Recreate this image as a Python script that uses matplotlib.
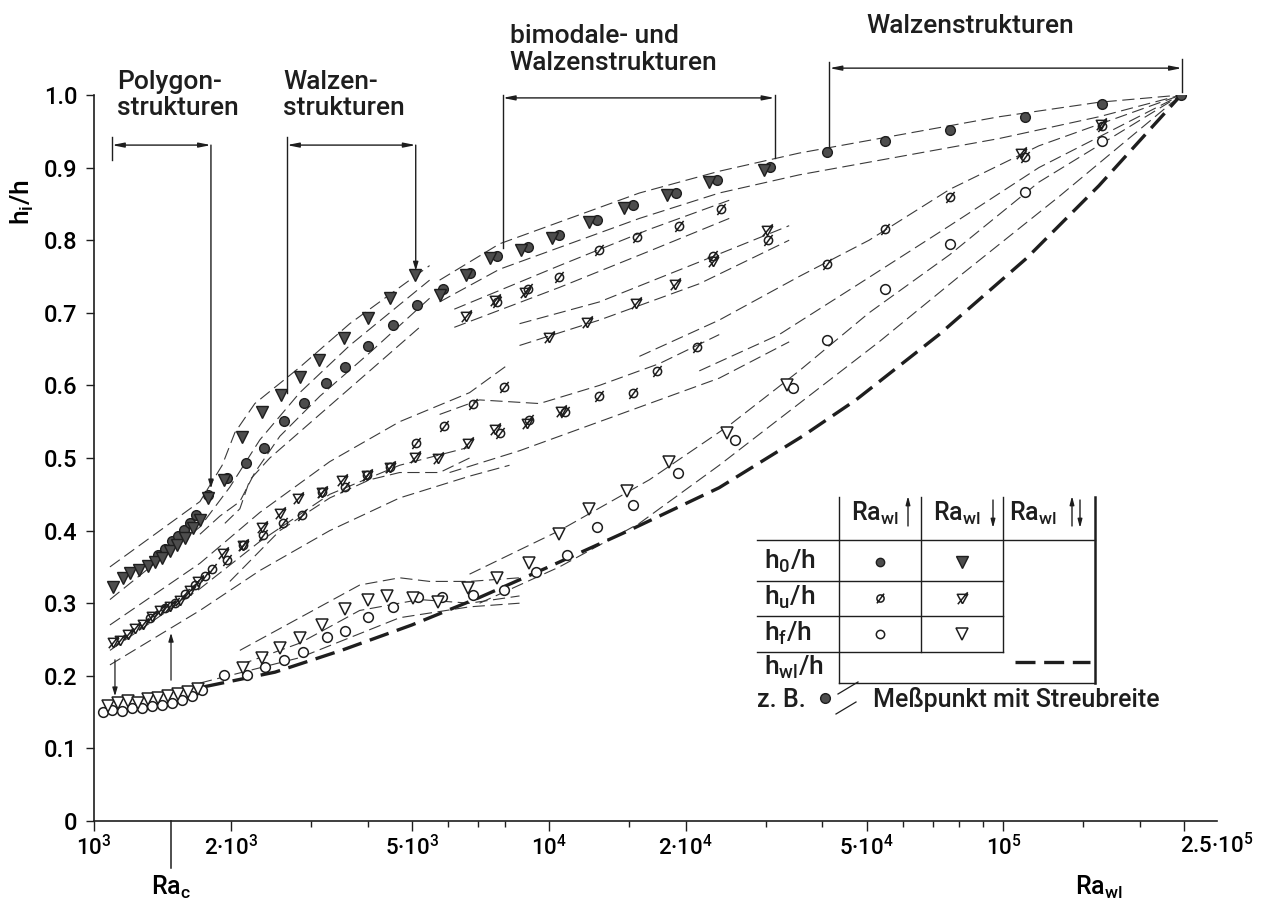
import numpy as np
import matplotlib
matplotlib.use('Agg')
import matplotlib.pyplot as plt
from matplotlib.path import Path

plt.rcParams['font.family'] = ['Roboto', 'DejaVu Sans']
plt.rcParams['font.weight'] = 'medium'
plt.rcParams['mathtext.fontset'] = 'custom'
plt.rcParams['mathtext.rm'] = 'Roboto:medium'
plt.rcParams['mathtext.it'] = 'Roboto:medium'
plt.rcParams['mathtext.bf'] = 'Roboto:bold'

# ---- measured values (Ra_wl, h_i/h) ----
h0_up_ra = [1383, 1432, 1484, 1530, 1577, 1626, 1676, 1780, 1960, 2160, 2364, 2617, 2894,
            3236, 3562, 4000, 4540, 5128, 5870, 6700, 7690, 8990, 10560, 12750, 15300,
            19100, 23400, 30600, 41000, 55000, 76500, 111700, 165000, 246000]
h0_up_h = [0.366, 0.375, 0.385, 0.392, 0.401, 0.410, 0.422, 0.449, 0.472, 0.493, 0.514, 0.551,
           0.576, 0.603, 0.626, 0.654, 0.683, 0.711, 0.733, 0.755, 0.778, 0.791, 0.807, 0.828,
           0.848, 0.865, 0.883, 0.901, 0.921, 0.937, 0.952, 0.970, 0.988, 1.0]

h0_dn_ra = [1101, 1158, 1200, 1256, 1314, 1362, 1411, 1469, 1522, 1585, 1651, 1710, 1780, 1930,
            2115, 2340, 2576, 2835, 3123, 3542, 4000, 4470, 5077, 5756, 6565, 7412, 8710,
            10190, 12290, 14670, 18230, 22550, 29780]
h0_dn_h = [0.322, 0.335, 0.342, 0.346, 0.351, 0.357, 0.362, 0.372, 0.380, 0.390, 0.403, 0.415,
           0.445, 0.470, 0.529, 0.563, 0.587, 0.612, 0.635, 0.665, 0.693, 0.721, 0.752, 0.724,
           0.752, 0.775, 0.787, 0.803, 0.825, 0.845, 0.862, 0.880, 0.897]

hu_up_ra = [1328, 1432, 1507, 1585, 1667, 1754, 1817, 1965, 2125, 2350, 2600, 2870, 3170, 3560,
            3990, 4470, 5120, 5900, 6800, 7960, 7800, 9070, 10840, 12930, 15300, 17340, 21230,
            7690, 8990, 10560, 12930, 15670, 19380, 23960, 23030, 30400,
            41000, 55000, 76200, 111400, 165000]
hu_up_h = [0.280, 0.293, 0.300, 0.312, 0.325, 0.337, 0.347, 0.360, 0.380, 0.394, 0.410, 0.421,
           0.453, 0.460, 0.477, 0.488, 0.520, 0.544, 0.574, 0.598, 0.535, 0.553, 0.563, 0.585,
           0.590, 0.620, 0.653,
           0.715, 0.733, 0.750, 0.787, 0.805, 0.820, 0.843, 0.778, 0.800,
           0.767, 0.815, 0.860, 0.915, 0.957]

hu_dn_ra = [1101, 1141, 1188, 1231, 1281, 1340, 1397, 1469, 1545, 1626, 1694, 1920, 2125, 2340,
            2563, 2806, 3170, 3510, 3990, 4470, 5077, 5700, 6630, 7610, 8940, 10660,
            6565, 7610, 8850, 10040, 12170, 15590, 18990, 23030, 30240, 109300, 163600]
hu_dn_h = [0.247, 0.250, 0.258, 0.266, 0.272, 0.283, 0.290, 0.296, 0.305, 0.318, 0.330, 0.369,
           0.380, 0.405, 0.424, 0.445, 0.453, 0.470, 0.477, 0.488, 0.501, 0.500, 0.520, 0.540,
           0.548, 0.565,
           0.695, 0.718, 0.728, 0.667, 0.688, 0.713, 0.740, 0.772, 0.814, 0.920, 0.960]

hf_up_ra = [1046, 1095, 1152, 1212, 1275, 1340, 1411, 1484, 1561, 1642, 1727, 1930, 2168, 2375,
            2617, 2880, 3250, 3560, 4000, 4540, 5150, 5840, 6800, 7960, 9400, 10970, 12800,
            15300, 19200, 25700, 34500, 41000, 55000, 76200, 111400, 165000]
hf_up_h = [0.150, 0.153, 0.152, 0.156, 0.155, 0.158, 0.160, 0.163, 0.167, 0.172, 0.180, 0.201,
           0.201, 0.212, 0.222, 0.233, 0.253, 0.262, 0.281, 0.295, 0.309, 0.309, 0.311, 0.318,
           0.343, 0.367, 0.405, 0.435, 0.480, 0.525, 0.597, 0.663, 0.733, 0.795, 0.867, 0.937]

hf_dn_ra = [1073, 1129, 1188, 1249, 1314, 1383, 1454, 1530, 1609, 1694, 2126, 2340, 2563, 2835,
            3170, 3560, 4000, 4420, 5020, 5700, 6630, 7690, 9070, 10560, 12290, 14890, 18420,
            24690, 33460]
hf_dn_h = [0.158, 0.162, 0.165, 0.163, 0.168, 0.170, 0.172, 0.175, 0.178, 0.182, 0.211, 0.224,
           0.238, 0.252, 0.270, 0.292, 0.304, 0.310, 0.307, 0.302, 0.321, 0.335, 0.355, 0.395,
           0.430, 0.455, 0.495, 0.535, 0.600]

hwl_ra = [1750, 2500, 3500, 5000, 7050, 10000, 15000, 23700, 36150, 47400, 72200, 112400,
          162200, 246000]
hwl_h = [0.185, 0.205, 0.235, 0.270, 0.308, 0.350, 0.400, 0.459, 0.530, 0.580, 0.670, 0.775,
         0.875, 1.0]

# scatter-band envelopes (Streubreite)
env_h0_a = ([1084, 1710, 1914, 2041, 2258, 2835, 3651, 5471],
            [0.350, 0.440, 0.490, 0.535, 0.575, 0.625, 0.685, 0.765])
env_h0_b = ([1084, 1710, 1990, 2316, 2835, 3651, 5471],
            [0.305, 0.405, 0.460, 0.525, 0.590, 0.655, 0.745])
env_h0_c = ([1710, 1892, 2093, 2258, 2563, 3137, 4040, 5471],
            [0.395, 0.420, 0.440, 0.480, 0.530, 0.585, 0.645, 0.720])
env_h0_d = ([1940, 2093, 2202, 2436, 3137, 4040, 5201],
            [0.410, 0.430, 0.470, 0.500, 0.560, 0.620, 0.680])
env_h0_e = ([5756, 7796, 10560, 15830, 23720, 35550, 58970, 97800, 162200, 246000],
            [0.745, 0.795, 0.825, 0.865, 0.895, 0.920, 0.945, 0.970, 0.990, 1.0])
env_h0_f = ([5756, 7796, 10560, 15830, 23720, 35550, 58970, 97800, 162200, 246000],
            [0.715, 0.760, 0.790, 0.830, 0.865, 0.890, 0.915, 0.940, 0.970, 1.0])
env_hu_a = ([1084, 1710, 2316, 3300, 4701, 6698, 8200],
            [0.270, 0.355, 0.425, 0.495, 0.550, 0.590, 0.630])
env_hu_b = ([1084, 1710, 2316, 3300, 4701, 6698],
            [0.235, 0.320, 0.385, 0.450, 0.490, 0.515])
env_hu_c = ([1084, 1710, 2316, 3300, 4701, 6698, 8200],
            [0.215, 0.290, 0.345, 0.400, 0.445, 0.475, 0.490])
env_hu_d = ([1990, 2563, 3300, 4040, 4701, 5756, 6698],
            [0.330, 0.400, 0.445, 0.470, 0.480, 0.480, 0.500])
env_hu_e = ([5756, 7046, 9545, 12930, 17510, 23720],
            [0.560, 0.580, 0.575, 0.600, 0.630, 0.670])
env_hu_f = ([6054, 8627, 12930, 17510, 23720, 33800],
            [0.480, 0.510, 0.550, 0.580, 0.610, 0.660])
env_hu_g = ([6200, 10560, 16650, 24950], [0.705, 0.765, 0.815, 0.855])
env_hu_h = ([6200, 10560, 16650, 24950], [0.680, 0.735, 0.785, 0.830])
env_hu_i = ([8627, 12930, 21440, 33800], [0.685, 0.715, 0.770, 0.820])
env_hu_j = ([8627, 12930, 21440, 33800], [0.655, 0.690, 0.740, 0.800])
env_hf_a = ([2093, 2835, 3840, 4701, 5471, 6698, 8627],
            [0.235, 0.280, 0.325, 0.335, 0.330, 0.330, 0.335])
env_hf_b = ([2093, 2835, 3840, 5201, 6698, 8627],
            [0.215, 0.245, 0.290, 0.305, 0.300, 0.310])
env_hf_c = ([1710, 2835, 4701, 6698, 8627], [0.190, 0.225, 0.280, 0.295, 0.300])
fan_a = ([6698, 10560, 16650, 24950, 35550, 50660, 76200, 119700, 246000],
         [0.340, 0.400, 0.470, 0.545, 0.620, 0.700, 0.780, 0.880, 1.0])
fan_b = ([7046, 10560, 15830, 23720, 35550, 53290, 79880, 132500, 246000],
         [0.300, 0.350, 0.410, 0.490, 0.575, 0.660, 0.750, 0.860, 1.0])
fan_c = ([15830, 23720, 35550, 50660, 76200, 119700, 246000],
         [0.640, 0.690, 0.750, 0.800, 0.870, 0.930, 1.0])
fan_d = ([21440, 32130, 48160, 76200, 119700, 246000],
         [0.620, 0.670, 0.740, 0.820, 0.900, 1.0])
envelopes = [env_h0_a, env_h0_b, env_h0_c, env_h0_d, env_h0_e, env_h0_f,
             env_hu_a, env_hu_b, env_hu_c, env_hu_d, env_hu_e, env_hu_f,
             env_hu_g, env_hu_h, env_hu_i, env_hu_j, env_hf_a, env_hf_b, env_hf_c,
             fan_a, fan_b, fan_c, fan_d]

ra_c = 1477
x_major = [1e3, 2e3, 5e3, 1e4, 2e4, 5e4, 1e5, 2.5e5]
x_major_labels = ['10$^3$', '2·10$^3$', '5·10$^3$', '10$^4$', '2·10$^4$', '5·10$^4$', '10$^5$', '']
x_minor = [3e3, 4e3, 6e3, 7e3, 8e3, 1.5e4, 3e4, 4e4, 6e4, 7e4, 8e4, 9e4, 1.5e5, 2e5]
y_ticks = [0.0, 0.1, 0.2, 0.3, 0.4, 0.5, 0.6, 0.7, 0.8, 0.9, 1.0]

# ---- markers ----
slash_circle = Path.make_compound_path(Path.unit_circle(),
                                       Path([(-1.0, -1.35), (1.0, 1.35)]))
tri = Path([(0, -1), (1, 0.8), (-1, 0.8), (0, -1)])
slash_tri = Path.make_compound_path(tri, Path([(-0.9, -1.1), (1.0, 1.2)]))

ink = '#1e1e1e'
grey = '#4d4d4d'

fig = plt.figure(figsize=(12.67, 9.15), dpi=100)
ax = fig.add_axes([94 / 1267, 1 - 821 / 915, 1123 / 1267, 726 / 915])
ax.set_xscale('log')
ax.set_xlim(1000, 295000)
ax.set_ylim(0, 1.0)

for ra, h in envelopes:
    ax.plot(ra, h, color='#3a3a3a', lw=0.8, dashes=(11, 5), zorder=1)

ax.plot(hwl_ra, hwl_h, color=ink, lw=2.4, dashes=(6, 2.6), zorder=2)

ax.plot(h0_up_ra, h0_up_h, ls='none', marker='o', ms=7, mfc=grey, mec=ink, mew=1, zorder=4)
ax.plot(h0_dn_ra, h0_dn_h, ls='none', marker='v', ms=8, mfc=grey, mec=ink, mew=1, zorder=4)
ax.plot(hu_up_ra, hu_up_h, ls='none', marker=slash_circle, ms=8, mfc='none', mec=ink, mew=1.1, zorder=4)
ax.plot(hu_dn_ra, hu_dn_h, ls='none', marker=slash_tri, ms=9, mfc='none', mec=ink, mew=1.1, zorder=4)
ax.plot(hf_up_ra, hf_up_h, ls='none', marker='o', ms=7, mfc='white', mec=ink, mew=1.1, zorder=4)
ax.plot(hf_dn_ra, hf_dn_h, ls='none', marker='v', ms=9, mfc='white', mec=ink, mew=1.1, zorder=4)

# axes styling
for s in ['top', 'right']:
    ax.spines[s].set_visible(False)
for s in ['left', 'bottom']:
    ax.spines[s].set_linewidth(1.2)
    ax.spines[s].set_color(ink)
ax.set_xticks(x_major)
ax.set_xticklabels(x_major_labels)
ax.set_xticks(x_minor, minor=True)
ax.set_xticklabels([''] * len(x_minor), minor=True)
ax.set_yticks(y_ticks)
ax.set_yticklabels(['0' if v == 0 else f'{v:.1f}' for v in y_ticks])
ax.tick_params(axis='x', which='major', direction='out', length=7, width=1, labelsize=16, pad=3,
               color=ink)
ax.tick_params(axis='x', which='minor', direction='out', length=4, width=1, color=ink)
ax.tick_params(axis='y', direction='out', length=6, width=1, labelsize=17, pad=6, color=ink)

# Ra_c marker below the axis
ax.plot([ra_c, ra_c], [0, -0.065], color=ink, lw=1.1, clip_on=False)
ax.text(ra_c, -0.092, 'Ra$_\\mathrm{c}$', ha='center', va='center', fontsize=18)
ax.text(162000, -0.092, 'Ra$_\\mathrm{wl}$', ha='center', va='center', fontsize=18)
ax.text(295000, -0.034, '2.5·10$^5$', ha='center', va='center', fontsize=16)
ax.text(-0.064, 0.852, 'h$_\\mathrm{i}$/h', rotation=90, ha='center', va='center', fontsize=19,
        transform=ax.transAxes)

# small arrows in the lower left
small_arrow = dict(arrowstyle='-|>,head_length=0.5,head_width=0.15', color=ink, lw=0.9,
                   shrinkA=0, shrinkB=0)
ax.annotate('', xy=(1112, 0.172), xytext=(1112, 0.222), annotation_clip=False,
            arrowprops=small_arrow)
ax.annotate('', xy=(ra_c, 0.259), xytext=(ra_c, 0.194), annotation_clip=False,
            arrowprops=small_arrow)

# structure-range brackets
arrow_style = '<|-|>,head_length=0.7,head_width=0.14'


def bracket(x1, x2, y, label, tx, ty):
    ax.annotate('', xy=(x2, y), xytext=(x1, y), annotation_clip=False,
                arrowprops=dict(arrowstyle=arrow_style, color=ink, lw=1.0, shrinkA=0, shrinkB=0))
    ax.text(tx, ty, label, ha='left', va='top', fontsize=19, linespacing=1.15, color=ink)


def vline(x, y0, y1, arrow=False):
    if arrow:
        ax.annotate('', xy=(x, y1), xytext=(x, y0), annotation_clip=False,
                    arrowprops=dict(arrowstyle='-|>,head_length=0.5,head_width=0.15', color=ink,
                                    lw=1.0, shrinkA=0, shrinkB=0))
    else:
        ax.plot([x, x], [y0, y1], color=ink, lw=1.0, clip_on=False)


bracket(1095, 1808, 0.931, 'Polygon-\nstrukturen', 1124, 1.035)
vline(1095, 0.942, 0.910)
vline(1808, 0.931, 0.458, arrow=True)
bracket(2657, 5100, 0.931, 'Walzen-\nstrukturen', 2604, 1.035)
vline(2657, 0.942, 0.590)
vline(5100, 0.931, 0.758, arrow=True)
bracket(7925, 31380, 0.996, 'bimodale- und\nWalzenstrukturen', 8200, 1.098)
vline(7925, 1.0, 0.789)
vline(31380, 1.0, 0.913)
bracket(41450, 247000, 1.037, 'Walzenstrukturen', 50000, 1.111)
vline(41450, 1.045, 0.925)
vline(247000, 1.05, 1.004)

# ---- legend table (figure pixel coordinates) ----
ov = fig.add_axes([0, 0, 1, 1])
ov.set_xlim(0, 1267)
ov.set_ylim(915, 0)
ov.axis('off')
ov.patch.set_alpha(0)


def seg(x0, y0, x1, y1, lw=1.0):
    ov.plot([x0, x1], [y0, y1], color=ink, lw=lw)


def arr(x, y_from, y_to):
    ov.annotate('', xy=(x, y_to), xytext=(x, y_from),
                arrowprops=dict(arrowstyle='-|>,head_length=0.5,head_width=0.13', color=ink,
                                lw=1.0, shrinkA=0, shrinkB=0))


seg(839, 497, 839, 683)
seg(921, 497, 921, 652)
seg(1003, 497, 1003, 652)
seg(1095, 497, 1095, 683, lw=1.8)
seg(757, 540, 1095, 540)
seg(757, 581, 1003, 581)
seg(757, 616, 1003, 616)
seg(757, 652, 1003, 652)
seg(839, 683, 1095, 683)

hdr = dict(fontsize=18, va='center', ha='center', color=ink)
ov.text(875, 513, 'Ra$_\\mathrm{wl}$', **hdr)
ov.text(957, 513, 'Ra$_\\mathrm{wl}$', **hdr)
ov.text(1033, 513, 'Ra$_\\mathrm{wl}$', **hdr)
arr(908, 526, 496)
arr(993, 500, 528)
arr(1072, 526, 496)
arr(1080, 500, 528)

row = dict(fontsize=19, va='center', ha='left', color=ink)
ov.text(764, 561, 'h$_0$/h', **row)
ov.text(764, 597, 'h$_\\mathrm{u}$/h', **row)
ov.text(764, 633, 'h$_\\mathrm{f}$/h', **row)
ov.text(764, 667, 'h$_\\mathrm{wl}$/h', **row)

ov.plot(880, 562, marker='o', ms=6, mfc=grey, mec=ink)
ov.plot(962, 562, marker='v', ms=8, mfc=grey, mec=ink)
ov.plot(880, 598, marker=slash_circle, ms=7, mfc='none', mec=ink, mew=1.1)
ov.plot(962, 598, marker=slash_tri, ms=9, mfc='none', mec=ink, mew=1.1)
ov.plot(880, 634, marker='o', ms=6, mfc='white', mec=ink, mew=1.1)
ov.plot(962, 634, marker='v', ms=9, mfc='white', mec=ink, mew=1.1)
ov.plot([1015, 1090], [662, 662], color=ink, lw=2.4, dashes=(6, 2.6))

ov.text(757, 700, 'z. B.', fontsize=18, va='center', ha='left', color=ink)
ov.plot(825, 698, marker='o', ms=7, mfc=grey, mec=ink)
ov.plot([838, 858], [694, 682], color=ink, lw=0.9)
ov.plot([836, 856], [714, 702], color=ink, lw=0.9)
ov.text(873, 700, 'Meßpunkt mit Streubreite', fontsize=18, va='center', ha='left', color=ink)

fig.savefig('out.png', dpi=100)
